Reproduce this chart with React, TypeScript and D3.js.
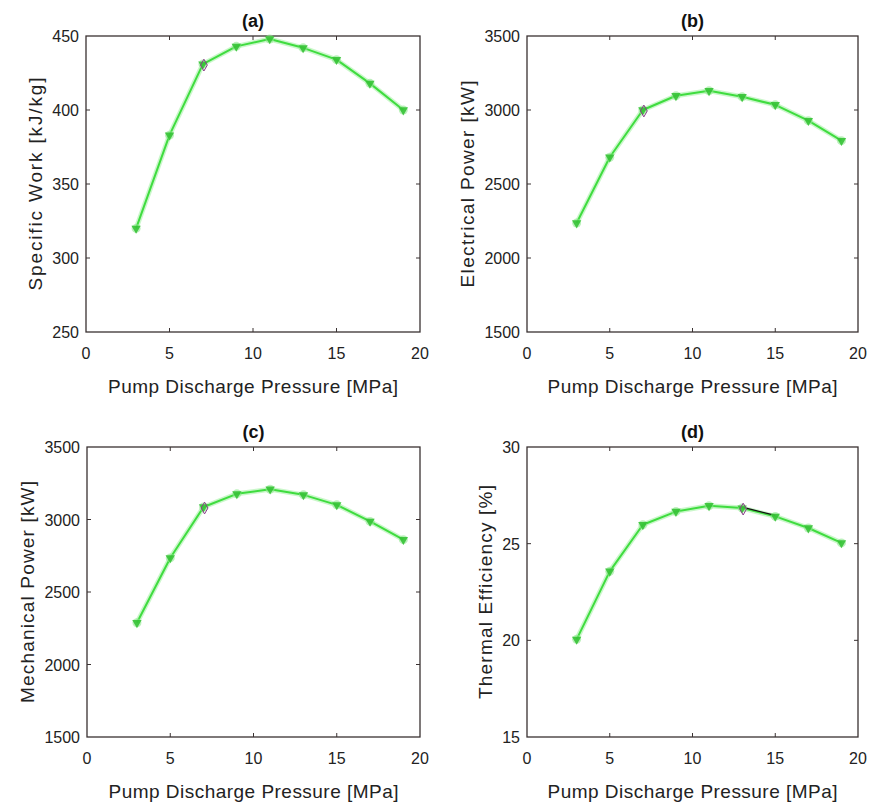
import React from "react";
import * as d3 from "d3";

const pressure = [3, 5, 7, 9, 11, 13, 15, 17, 19];
const specificWork = [320, 383, 431, 443, 448, 442, 434, 418, 400];
const electricalPower = [2236, 2681, 3000, 3096, 3130, 3089, 3035, 2928, 2793];
const mechanicalPower = [2288, 2735, 3086, 3177, 3209, 3170, 3101, 2987, 2861];
const thermalEfficiency = [20.05, 23.57, 25.98, 26.66, 26.96, 26.84, 26.41, 25.81, 25.04];

const xTicks = [0, 5, 10, 15, 20];
const yTicksA = [250, 300, 350, 400, 450];
const yTicksPower = [1500, 2000, 2500, 3000, 3500];
const yTicksEff = [15, 20, 25, 30];

const titles = ["(a)", "(b)", "(c)", "(d)"];
const yLabels = [
  "Specific Work [kJ/kg]",
  "Electrical Power [kW]",
  "Mechanical Power [kW]",
  "Thermal Efficiency [%]",
];
const yLabelLengths = [213, 207, 222, 214];
const xLabel = "Pump Discharge Pressure [MPa]";

// extra marker index with purple diamond, and black-segment index in (d)
const diamondIdx = [2, 2, 2, 5];

const panels = [
  { left: 86, right: 420, top: 36, bottom: 332, values: specificWork, yTicks: yTicksA, yDomain: [250, 450] },
  { left: 527, right: 858, top: 36, bottom: 332, values: electricalPower, yTicks: yTicksPower, yDomain: [1500, 3500] },
  { left: 87, right: 420, top: 447, bottom: 737, values: mechanicalPower, yTicks: yTicksPower, yDomain: [1500, 3500] },
  { left: 527, right: 858, top: 447, bottom: 737, values: thermalEfficiency, yTicks: yTicksEff, yDomain: [15, 30] },
];

const FONT = "'Liberation Sans', Arial, sans-serif";
const AX = "#3a3232";
const GREEN = "#3fdc3f";

function Panel({ p, i }: { p: any; i: number }) {
  const x = d3.scaleLinear().domain([0, 20]).range([p.left, p.right]);
  const y = d3.scaleLinear().domain(p.yDomain).range([p.bottom, p.top]);
  const line = d3
    .line<number>()
    .x((_, k) => x(pressure[k]))
    .y((v) => y(v));
  const path = line(p.values) || "";
  const tri = d3.symbol().type(d3.symbolTriangle).size(38)() || "";
  const cx = (p.left + p.right) / 2;
  const cy = (p.top + p.bottom) / 2;
  const di = diamondIdx[i];
  const maxDigits = d3.max(p.yTicks as number[], (t) => String(t).length) || 3;
  const labelX = p.left - 7 - maxDigits * 9 - 17;
  return (
    <g>
      <text x={cx} y={p.top - 9} textAnchor="middle" fontFamily={FONT} fontWeight="bold" fontSize={18} fill="#111">
        {titles[i]}
      </text>
      <rect x={p.left} y={p.top} width={p.right - p.left} height={p.bottom - p.top} fill="#fff" stroke={AX} strokeWidth={1.3} />
      {xTicks.slice(1, -1).map((t) => (
        <g key={"xt" + t}>
          <line x1={x(t)} x2={x(t)} y1={p.bottom} y2={p.bottom - 4} stroke={AX} />
          <line x1={x(t)} x2={x(t)} y1={p.top} y2={p.top + 4} stroke={AX} />
        </g>
      ))}
      {p.yTicks.slice(1, -1).map((t: number) => (
        <g key={"yt" + t}>
          <line x1={p.left} x2={p.left + 4} y1={y(t)} y2={y(t)} stroke={AX} />
          <line x1={p.right} x2={p.right - 4} y1={y(t)} y2={y(t)} stroke={AX} />
        </g>
      ))}
      {xTicks.map((t) => (
        <text key={"xl" + t} x={x(t)} y={p.bottom + 27} textAnchor="middle" fontFamily={FONT} fontSize={16} fill="#222">
          {t}
        </text>
      ))}
      {p.yTicks.map((t: number) => (
        <text key={"yl" + t} x={p.left - 7} y={y(t) + 6} textAnchor="end" fontFamily={FONT} fontSize={16} fill="#222">
          {t}
        </text>
      ))}
      <text
        x={cx}
        y={p.bottom + 61}
        textAnchor="middle"
        fontFamily={FONT}
        fontSize={19}
        fill="#222"
        textLength={290}
        lengthAdjust="spacing"
      >
        {xLabel}
      </text>
      <text
        transform={`translate(${labelX + 7},${cy}) rotate(-90)`}
        textAnchor="middle"
        fontFamily={FONT}
        fontSize={19}
        fill="#222"
        textLength={yLabelLengths[i]}
        lengthAdjust="spacing"
      >
        {yLabels[i]}
      </text>
      <path d={path} fill="none" stroke="#9ef09e" strokeWidth={5} strokeOpacity={0.55} strokeLinejoin="round" />
      <path d={path} fill="none" stroke={GREEN} strokeWidth={2} strokeLinejoin="round" />
      {i === 3 && (
        <line
          x1={x(pressure[di])}
          y1={y(p.values[di]) - 1}
          x2={x(pressure[di + 1])}
          y2={y(p.values[di + 1]) - 1}
          stroke="#111"
          strokeWidth={1.3}
        />
      )}
      {p.values.map((v: number, k: number) => (
        <g key={"m" + k} transform={`translate(${x(pressure[k])},${y(v)})`}>
          <circle r={4.5} fill="#8fe88f" fillOpacity={0.6} />
          <path d={tri} transform="rotate(180)" fill="#2fbf2f" fillOpacity={0.85} />
        </g>
      ))}
      <path
        d={d3.symbol().type(d3.symbolDiamond).size(40)() || ""}
        transform={`translate(${x(pressure[di]) + 1},${y(p.values[di]) + 1})`}
        fill="none"
        stroke="#8a3a8a"
        strokeWidth={1}
      />
    </g>
  );
}

export default function App() {
  return (
    <svg
      width={873}
      height={807}
      style={{ position: "absolute", left: 0, top: 0, background: "#fff" }}
    >
      <rect width={873} height={807} fill="#fff" />
      {panels.map((p, i) => (
        <Panel key={i} p={p} i={i} />
      ))}
    </svg>
  );
}
